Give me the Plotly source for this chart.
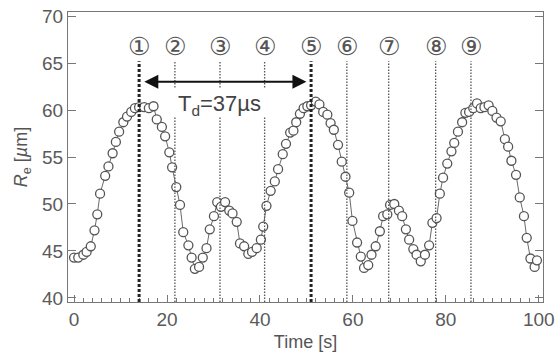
import plotly.graph_objects as go

# Data
time_s = [0.0, 0.9, 2.0, 2.7, 3.6, 4.4, 5.0, 5.6, 6.7, 7.4, 8.3, 9.0, 9.7, 10.6, 11.4, 12.3,
          13.1, 14.0, 15.1, 16.1, 17.1, 17.8, 18.9, 19.6, 20.5, 21.1, 22.0, 22.8, 23.5, 24.6,
          25.3, 26.0, 26.9, 27.7, 28.5, 29.2, 30.1, 30.8, 31.6, 32.5, 33.4, 34.1, 35.0, 35.7,
          36.6, 37.5, 38.3, 39.3, 40.2, 40.7, 41.4, 42.3, 43.2, 43.9, 44.9, 45.6, 46.5, 47.2,
          47.8, 48.6, 49.4, 50.2, 51.0, 52.0, 52.8, 53.6, 54.5, 55.2, 55.9, 56.8, 57.6, 58.4,
          59.2, 59.9, 60.9, 61.7, 62.4, 63.3, 64.0, 64.9, 65.8, 66.5, 67.4, 68.0, 68.9, 69.9,
          70.6, 71.4, 72.1, 73.0, 73.7, 74.6, 75.5, 76.4, 77.1, 78.0, 78.7, 79.4, 80.3, 81.2,
          81.8, 82.6, 83.5, 84.2, 85.0, 85.9, 86.7, 87.5, 88.3, 89.2, 90.0, 90.9, 91.8, 92.7,
          93.4, 94.1, 95.1, 95.9, 96.8, 97.4, 98.2, 99.1, 99.6]
re_um = [44.3, 44.3, 44.6, 44.9, 45.5, 47.2, 48.9, 51.1, 53.0, 54.0, 55.4, 56.6, 57.7, 58.7, 59.3, 59.8,
         60.2, 60.3, 60.3, 60.2, 60.4, 59.0, 58.2, 57.2, 55.5, 53.9, 51.8, 49.9, 47.0, 45.6,
         44.3, 43.1, 43.3, 44.3, 45.3, 47.3, 48.7, 50.2, 49.7, 50.2, 49.3, 49.0, 48.1, 45.8,
         45.5, 44.7, 44.9, 45.3, 46.2, 47.6, 49.8, 51.4, 52.4, 53.7, 55.3, 56.4, 57.6, 57.8,
         58.7, 59.6, 60.2, 60.4, 60.5, 60.9, 60.6, 59.8, 59.5, 58.6, 57.9, 56.3, 54.5, 52.9,
         51.2, 48.2, 45.9, 44.4, 43.2, 43.5, 44.6, 45.5, 47.1, 48.7, 48.9, 49.9, 50.0, 49.3,
         48.7, 47.3, 46.2, 45.2, 44.6, 43.9, 44.6, 45.6, 48.0, 48.5, 51.1, 52.8, 54.3, 55.6,
         56.5, 57.7, 58.7, 59.7, 59.8, 60.2, 60.7, 60.2, 60.3, 60.5, 59.9, 59.2, 58.8, 56.9,
         56.1, 54.6, 53.1, 50.7, 48.7, 46.4, 44.2, 43.3, 44.0]

event_times = [14.0, 21.7, 31.4, 41.0, 51.0, 58.7, 67.7, 77.8, 85.4]
event_labels = ["①", "②", "③", "④", "⑤", "⑥", "⑦", "⑧", "⑨"]
bold_events = ["①", "⑤"]
gap_events = ["②", "③", "④"]

td_start, td_end = 14.0, 51.0
td_label = "T<sub>d</sub>=37µs"

x_range = [-1.3, 100.9]
y_range = [39.57, 70.43]
line_top = 65.2
label_y = 66.8
gap_low, gap_high = 59.3, 62.4
arrow_y = 63.0

fig = go.Figure()

fig.add_trace(go.Scatter(
    x=time_s, y=re_um, mode="lines+markers",
    line=dict(color="#6a6a6a", width=1),
    marker=dict(size=9, color="white", line=dict(color="#555555", width=1.3)),
    showlegend=False,
))

for t, lab in zip(event_times, event_labels):
    bold = lab in bold_events
    style = dict(color="#222222" if bold else "#555555",
                 width=3 if bold else 1.3,
                 dash="3px,2px" if bold else "1.5px,1.5px")
    if lab in gap_events:
        segs = [(y_range[0], gap_low), (gap_high, line_top)]
    else:
        segs = [(y_range[0], line_top)]
    for y0, y1 in segs:
        fig.add_shape(type="line", xref="x", yref="y", x0=t, x1=t, y0=y0, y1=y1,
                      line=style, layer="above")
    fig.add_annotation(x=t, y=label_y, text=lab, showarrow=False,
                       font=dict(family="DejaVu Sans, Noto Sans CJK JP", size=25, color="#555555"))

# double-headed arrow
fig.add_annotation(x=td_end - 1.0, y=arrow_y, ax=td_start + 0.8, ay=arrow_y,
                   xref="x", yref="y", axref="x", ayref="y", text="",
                   showarrow=True, arrowhead=2, startarrowhead=2, arrowside="end+start",
                   arrowsize=1.4, startarrowsize=1.4, arrowwidth=2, arrowcolor="#111111",
                   standoff=0, startstandoff=0)
fig.add_annotation(x=(td_start + td_end) / 2 - 1.3, y=60.5, text=td_label, showarrow=False,
                   font=dict(family="Liberation Sans, Arial", size=22, color="#444444"))

axis_common = dict(showline=True, linecolor="#777777", linewidth=1.2, mirror=True,
                   showgrid=False, zeroline=False, ticks="inside", tickcolor="#777777",
                   automargin=False, ticklabeloverflow="allow",
                   tickfont=dict(family="Liberation Sans, Arial", size=19, color="#5a5a5a"))

fig.update_xaxes(range=x_range, tickmode="linear", tick0=0, dtick=20, ticklen=7,
                 minor=dict(ticks="inside", dtick=2, ticklen=4, tickcolor="#777777"),
                 title=dict(text="Time [s]", font=dict(family="Liberation Sans, Arial", size=18,
                                                       color="#555555"), standoff=6),
                 **axis_common)
fig.update_yaxes(range=y_range, tickmode="linear", tick0=40, dtick=5, ticklen=8,
                 title=dict(text="<i>R</i><sub>e</sub> [<i>µ</i>m]",
                            font=dict(family="Liberation Sans, Arial", size=18, color="#555555"),
                            standoff=9),
                 **axis_common)
fig.update_yaxes(mirror="ticks")

fig.update_layout(width=557, height=358, margin=dict(l=68, r=14, t=12, b=56),
                  plot_bgcolor="white", paper_bgcolor="white")

# remove the default page margin so the figure fills the window exactly
fig.write_html("out.html", config={"displayModeBar": False},
               post_script="document.body.style.margin='0';document.body.style.overflow='hidden';")
